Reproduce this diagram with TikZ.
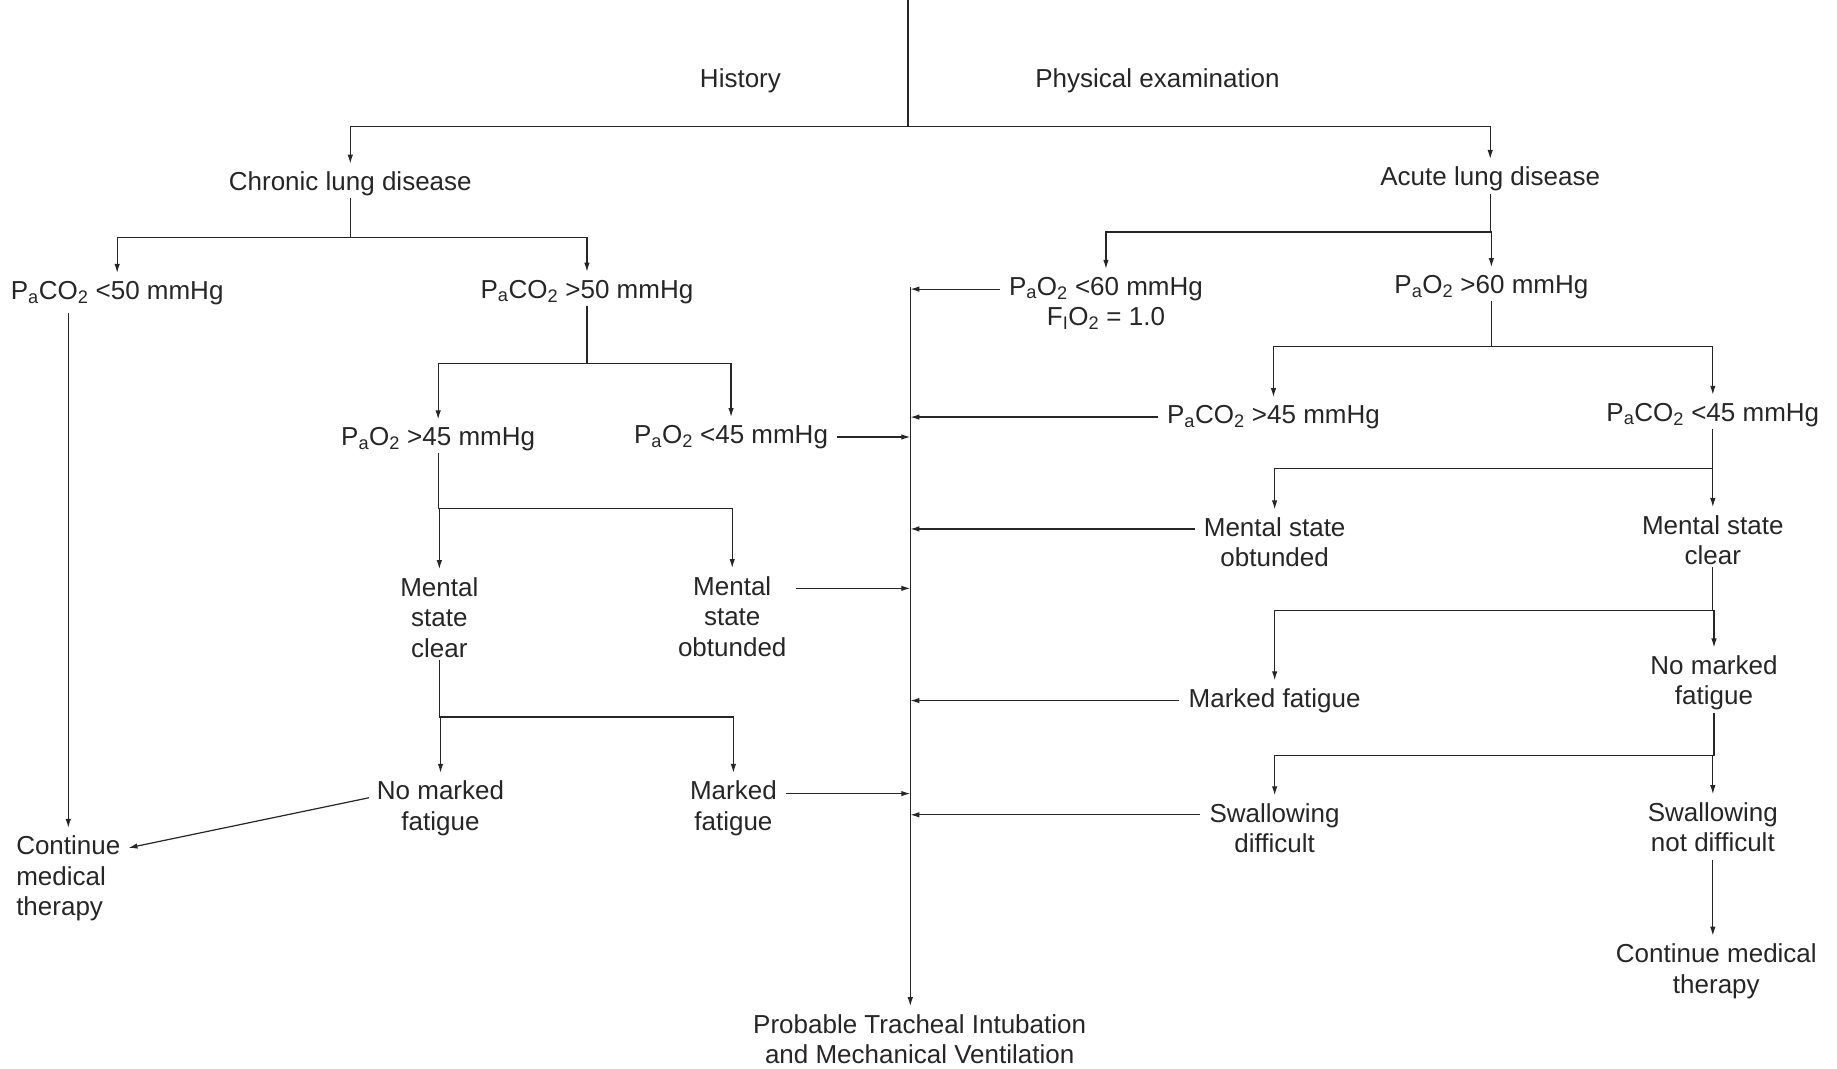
\documentclass[tikz,border=0pt]{standalone}
\usepackage{fontspec}
\setmainfont{Liberation Sans}
\usetikzlibrary{arrows.meta,calc}
\newcommand{\lsub}[1]{\textsubscript{#1}}
\begin{document}
\begin{tikzpicture}[x=1.1716pt,y=-1.1716pt,
  lbl/.style={font=\fontsize{26}{30.5}\selectfont, align=center, inner sep=2pt, text=black!85},
  ln/.style={line width=1.2pt, black!85},
  arr/.style={ln,-{Latex[length=9pt,width=5.5pt]},shorten >=6pt},
  harr/.style={ln,-{Latex[length=9pt,width=5.5pt]},shorten <=7pt},
]
\useasboundingbox (0,0) rectangle (1568,912);

% nodes
\node[lbl] (hist) at (632,69) {History};
\node[lbl] (phys) at (988,69) {Physical examination};
\node[lbl] (chronic) at (299,157) {Chronic lung disease};
\node[lbl] (acute) at (1272,153) {Acute lung disease};
\node[lbl] (pco2lo) at (100,250) {P\lsub{a}CO\lsub{2} <50 mmHg};
\node[lbl] (pco2hi) at (501,249) {P\lsub{a}CO\lsub{2} >50 mmHg};
\node[lbl] (pao2hi45) at (374,375) {P\lsub{a}O\lsub{2} >45 mmHg};
\node[lbl] (pao2lo45) at (624,373) {P\lsub{a}O\lsub{2} <45 mmHg};
\node[lbl] (msc1) at (375,527) {Mental\\state\\clear};
\node[lbl] (mso1) at (625,526) {Mental\\state\\obtunded};
\node[lbl] (nmf1) at (376,690) {No marked\\fatigue};
\node[lbl] (mf1) at (626,690) {Marked\\fatigue};
\node[lbl, align=left, anchor=west] (cont1) at (12,750) {Continue\\medical\\therapy};
\node[lbl] (prob) at (785,887) {Probable Tracheal Intubation\\and Mechanical Ventilation};
\node[lbl] (pao2lo60) at (944,259) {P\lsub{a}O\lsub{2} <60 mmHg\\F\lsub{I}O\lsub{2} = 1.0};
\node[lbl] (pao2hi60) at (1273,245) {P\lsub{a}O\lsub{2} >60 mmHg};
\node[lbl] (pco2hi45) at (1087,356) {P\lsub{a}CO\lsub{2} >45 mmHg};
\node[lbl] (pco2lo45) at (1462,354) {P\lsub{a}CO\lsub{2} <45 mmHg};
\node[lbl] (mso2) at (1088,463) {Mental state\\obtunded};
\node[lbl] (msc2) at (1462,461) {Mental state\\clear};
\node[lbl] (mf2) at (1088,598) {Marked fatigue};
\node[lbl] (nmf2) at (1463,583) {No marked\\fatigue};
\node[lbl] (swd) at (1088,707) {Swallowing\\difficult};
\node[lbl] (swnd) at (1462,706) {Swallowing\\not difficult};
\node[lbl] (cont2) at (1465,829) {Continue medical\\therapy};

% top split
\coordinate (t0) at (775,0);
\coordinate (j0) at (775,108);
\draw[ln] (t0) -- (j0);
\draw[arr] (j0) -| (chronic.north);
\draw[arr] (j0) -| (acute.north);

% chronic branch
\coordinate (jc) at (chronic.south |- 0,203);
\draw[ln] (chronic.south) -- (jc);
\draw[arr] (jc) -| (pco2lo.north);
\draw[arr] (jc) -| (pco2hi.north);

\draw[arr, shorten <=6pt] (pco2lo.south -| cont1.north) -- (cont1.north);

\coordinate (jp) at (pco2hi.south |- 0,310);
\draw[ln] (pco2hi.south) -- (jp);
\draw[arr] (jp) -| (pao2hi45.north);
\draw[arr] (jp) -| (pao2lo45.north);

\coordinate (jq) at (pao2hi45.south |- 0,434);
\draw[ln] (pao2hi45.south) -- (jq);
\draw[arr] (jq) -| (msc1.north);
\draw[arr] (jq) -| (mso1.north);

\coordinate (jm) at (msc1.south |- 0,612);
\draw[ln] (msc1.south) -- (jm);
\draw[arr] (jm) -| (nmf1.north);
\draw[arr] (jm) -| (mf1.north);

\coordinate (nmfL) at ($(nmf1.north west)!0.3!(nmf1.south west)$);
\coordinate (contR) at ($(cont1.north east)!0.17!(cont1.south east)$);
\draw[arr, shorten <=6pt] (nmfL) -- (contR);

% acute branch
\coordinate (ja) at (acute.south |- 0,198);
\draw[ln] (acute.south) -- (ja);
\draw[arr] (ja) -| (pao2lo60.north);
\draw[arr] (ja) -| (pao2hi60.north);

\coordinate (jb) at (pao2hi60.south |- 0,296);
\draw[ln] (pao2hi60.south) -- (jb);
\draw[arr] (jb) -| (pco2hi45.north);
\draw[arr] (jb) -| (pco2lo45.north);

\coordinate (jd) at (pco2lo45.south |- 0,400);
\draw[ln] (pco2lo45.south) -- (jd);
\draw[arr] (jd) -| (mso2.north);
\draw[arr] (jd) -| (msc2.north);

\coordinate (je) at (msc2.south |- 0,521);
\draw[ln] (msc2.south) -- (je);
\draw[arr] (je) -| (mf2.north);
\draw[arr] (je) -| (nmf2.north);

\coordinate (jf) at (nmf2.south |- 0,645);
\draw[ln] (nmf2.south) -- (jf);
\draw[arr] (jf) -| (swd.north);
\draw[arr] (jf) -| (swnd.north);

\draw[arr, shorten <=6pt] (swnd.south) -- (swnd.south |- cont2.north);

% central column
\coordinate (ctop) at (777,245);
\draw[arr] (ctop) -- (ctop |- prob.north);

\coordinate (r1) at ($(pao2lo60.north west)!0.25!(pao2lo60.south west)$);
\coordinate (r2) at (pco2hi45.west);
\coordinate (r3) at ($(mso2.north west)!0.25!(mso2.south west)$);
\coordinate (r4) at (mf2.west);
\coordinate (r5) at ($(swd.north west)!0.25!(swd.south west)$);
\coordinate (l1) at (pao2lo45.east);
\coordinate (l2) at ($(mso1.north east)!0.17!(mso1.south east)$);
\coordinate (l3) at ($(mf1.north east)!0.25!(mf1.south east)$);

\foreach \p in {r1,r2,r3,r4,r5,l1,l2,l3}
  \draw[harr] (\p) -- (\p -| ctop);
\end{tikzpicture}
\end{document}
